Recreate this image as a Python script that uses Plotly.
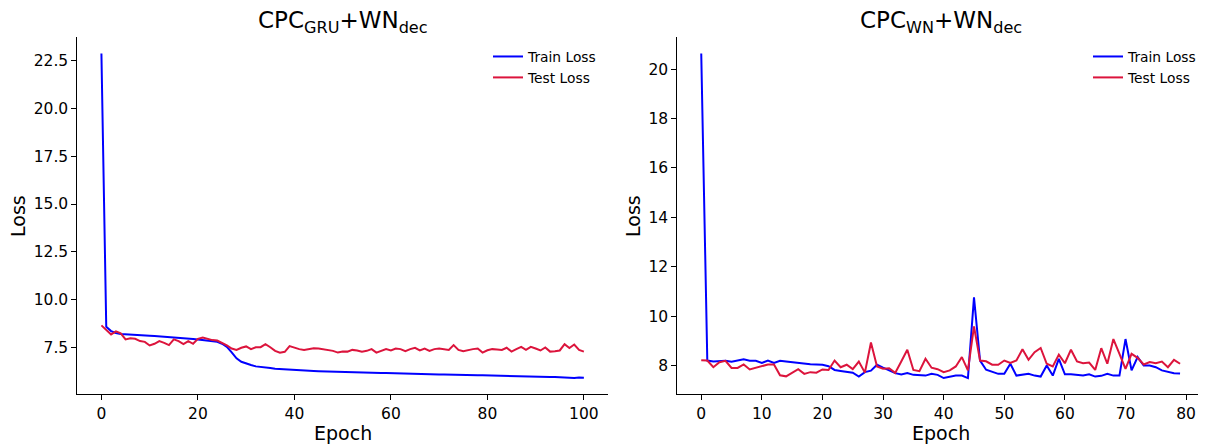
import plotly.graph_objects as go

# ---------------- data ----------------
epochs_gru = list(range(0, 101))
train_gru = [22.85, 8.6, 8.37, 8.27, 8.22, 8.2, 8.18, 8.16, 8.15, 8.14,
             8.13, 8.12, 8.1, 8.09, 8.07, 8.06, 8.05, 8.02, 7.98, 7.96,
             7.93, 7.9, 7.88, 7.85, 7.81, 7.71, 7.55, 7.26, 6.95, 6.77,
             6.67, 6.6, 6.53, 6.49, 6.46, 6.44, 6.41, 6.39, 6.37, 6.36,
             6.35, 6.33, 6.31, 6.3, 6.29, 6.28, 6.27, 6.26, 6.25, 6.25,
             6.24, 6.23, 6.23, 6.22, 6.21, 6.2, 6.2, 6.19, 6.18, 6.18,
             6.17, 6.17, 6.16, 6.16, 6.15, 6.15, 6.14, 6.13, 6.13, 6.12,
             6.11, 6.11, 6.1, 6.1, 6.09, 6.09, 6.08, 6.08, 6.07, 6.07,
             6.06, 6.06, 6.05, 6.05, 6.04, 6.04, 6.03, 6.0, 6.0, 6.0,
             5.99, 5.99, 5.98, 5.97, 5.97, 5.96, 5.96, 5.95, 5.92, 5.95,
             5.94]
test_gru = [8.67, 8.43, 8.2, 8.36, 8.25, 7.94, 8.0, 7.97, 7.85, 7.81,
            7.62, 7.71, 7.85, 7.76, 7.64, 7.94, 7.85, 7.69, 7.85, 7.71,
            7.97, 8.04, 7.97, 7.9, 7.88, 7.76, 7.62, 7.46, 7.39, 7.5,
            7.57, 7.43, 7.53, 7.53, 7.69, 7.53, 7.34, 7.24, 7.29, 7.59,
            7.5, 7.43, 7.39, 7.43, 7.48, 7.46, 7.43, 7.39, 7.34, 7.25,
            7.31, 7.30, 7.39, 7.36, 7.3, 7.34, 7.43, 7.25, 7.32, 7.43,
            7.36, 7.46, 7.43, 7.32, 7.43, 7.5, 7.36, 7.46, 7.34, 7.43,
            7.46, 7.43, 7.39, 7.64, 7.39, 7.32, 7.39, 7.43, 7.46, 7.25,
            7.37, 7.43, 7.41, 7.39, 7.5, 7.3, 7.43, 7.55, 7.39, 7.55,
            7.46, 7.36, 7.52, 7.3, 7.32, 7.36, 7.69, 7.49, 7.67, 7.39,
            7.3]

epochs_wn = list(range(0, 80))
train_wn = [20.63, 8.2, 8.16, 8.16, 8.19, 8.15, 8.19, 8.25, 8.19, 8.19,
            8.1, 8.2, 8.1, 8.19, 8.16, 8.13, 8.12, 8.07, 8.05, 8.04,
            8.03, 7.97, 7.82, 7.78, 7.74, 7.71, 7.55, 7.73, 7.79, 8.03,
            7.91, 7.80, 7.69, 7.64, 7.69, 7.62, 7.59, 7.59, 7.66, 7.62,
            7.49, 7.55, 7.59, 7.59, 7.49, 10.76, 8.2, 7.83, 7.75, 7.66,
            7.66, 8.07, 7.59, 7.62, 7.66, 7.59, 7.55, 8.0, 7.59, 8.27,
            7.64, 7.64, 7.61, 7.59, 7.64, 7.55, 7.58, 7.66, 7.59, 7.59,
            9.07, 7.80, 8.34, 8.0, 8.0, 7.93, 7.80, 7.73, 7.69, 7.68]
test_wn = [8.21, 8.2, 7.93, 8.13, 8.19, 7.9, 7.9, 8.04, 7.84, 7.9,
           7.98, 8.04, 8.04, 7.6, 7.56, 7.69, 7.85, 7.66, 7.73, 7.71,
           7.84, 7.82, 8.2, 7.93, 8.03, 7.85, 8.16, 7.71, 8.93, 7.96,
           7.87, 7.89, 7.70, 8.16, 8.64, 7.82, 7.77, 8.27, 7.91, 7.85,
           7.73, 7.80, 7.96, 8.34, 7.80, 9.58, 8.2, 8.17, 8.03, 8.03,
           8.2, 8.10, 8.2, 8.66, 8.23, 8.54, 8.71, 8.07, 7.96, 8.44,
           8.09, 8.64, 8.16, 8.09, 8.12, 7.82, 8.70, 8.07, 9.07, 8.47,
           7.86, 8.47, 8.31, 8.04, 8.14, 8.09, 8.16, 7.93, 8.23, 8.07]

series_names = ["Train Loss", "Test Loss"]
titles = ["CPC<sub>GRU</sub>+WN<sub>dec</sub>", "CPC<sub>WN</sub>+WN<sub>dec</sub>"]
x_label = "Epoch"
y_label = "Loss"
gru_yticks = [7.5, 10.0, 12.5, 15.0, 17.5, 20.0, 22.5]
wn_yticks = [8, 10, 12, 14, 16, 18, 20]
gru_xticks = [0, 20, 40, 60, 80, 100]
wn_xticks = [0, 10, 20, 30, 40, 50, 60, 70, 80]

# ---------------- styling ----------------
PAGE_W, PAGE_H = 1206, 444
OFF = 8  # default page body margin
W, H = PAGE_W - OFF, PAGE_H - OFF
BLUE = "#0000ff"
RED = "#dc143c"
FONT = "DejaVu Sans"


def px(x):
    return (x - OFF) / W


def py(y):
    return 1 - (y - OFF) / H


def padded(vals, frac=0.05):
    lo, hi = min(vals), max(vals)
    d = (hi - lo) * frac
    return [lo - d, hi + d]


fig = go.Figure()

fig.add_trace(go.Scatter(x=epochs_gru, y=train_gru, mode="lines", name=series_names[0],
                         line=dict(color=BLUE, width=2), xaxis="x", yaxis="y", legend="legend"))
fig.add_trace(go.Scatter(x=epochs_gru, y=test_gru, mode="lines", name=series_names[1],
                         line=dict(color=RED, width=2), xaxis="x", yaxis="y", legend="legend"))
fig.add_trace(go.Scatter(x=epochs_wn, y=train_wn, mode="lines", name=series_names[0],
                         line=dict(color=BLUE, width=2), xaxis="x2", yaxis="y2", legend="legend2"))
fig.add_trace(go.Scatter(x=epochs_wn, y=test_wn, mode="lines", name=series_names[1],
                         line=dict(color=RED, width=2), xaxis="x2", yaxis="y2", legend="legend2"))

left_dom = [px(77.3), px(608)]
right_dom = [px(677.3), px(1204)]
y_dom = [py(394.3), py(37.3)]

axis_common = dict(showline=True, linecolor="black", linewidth=1, ticks="outside",
                   ticklen=5, tickwidth=1, tickcolor="black", showgrid=False,
                   zeroline=False, mirror=False, automargin=False,
                   tickfont=dict(family=FONT, size=15.5, color="black"))

fig.update_layout(
    width=W, height=H,
    margin=dict(l=0, r=0, t=0, b=0, autoexpand=False),
    paper_bgcolor="white", plot_bgcolor="white",
    font=dict(family=FONT, color="black"),
    xaxis=dict(domain=left_dom, range=padded(epochs_gru), tickvals=gru_xticks,
               anchor="y", **axis_common),
    yaxis=dict(domain=y_dom, range=padded(train_gru + test_gru), tickvals=gru_yticks,
               tickformat=".1f", anchor="x", **axis_common),
    xaxis2=dict(domain=right_dom, range=padded(epochs_wn), tickvals=wn_xticks,
                anchor="y2", **axis_common),
    yaxis2=dict(domain=y_dom, range=padded(train_wn + test_wn), tickvals=wn_yticks,
                anchor="x2", **axis_common),
    legend=dict(x=px(488), y=py(41), xanchor="left", yanchor="top",
                bgcolor="rgba(0,0,0,0)", font=dict(family=FONT, size=13.8),
                itemwidth=30, tracegroupgap=0),
    legend2=dict(x=px(1088), y=py(41), xanchor="left", yanchor="top",
                 bgcolor="rgba(0,0,0,0)", font=dict(family=FONT, size=13.8),
                 itemwidth=30, tracegroupgap=0),
    showlegend=True,
)

for t, dom in zip(titles, [left_dom, right_dom]):
    cx = (dom[0] + dom[1]) / 2
    fig.add_annotation(text=t, xref="paper", yref="paper", x=cx, y=py(22),
                       xanchor="center", yanchor="middle", showarrow=False,
                       font=dict(family=FONT, size=23, color="black"))
    fig.add_annotation(text=x_label, xref="paper", yref="paper", x=cx, y=py(433),
                       xanchor="center", yanchor="middle", showarrow=False,
                       font=dict(family=FONT, size=19, color="black"))

for xl in [18, 633]:
    fig.add_annotation(text=y_label, xref="paper", yref="paper", x=px(xl), y=py(216),
                       xanchor="center", yanchor="middle", showarrow=False, textangle=-90,
                       font=dict(family=FONT, size=19, color="black"))

fig.write_html("out.html")
